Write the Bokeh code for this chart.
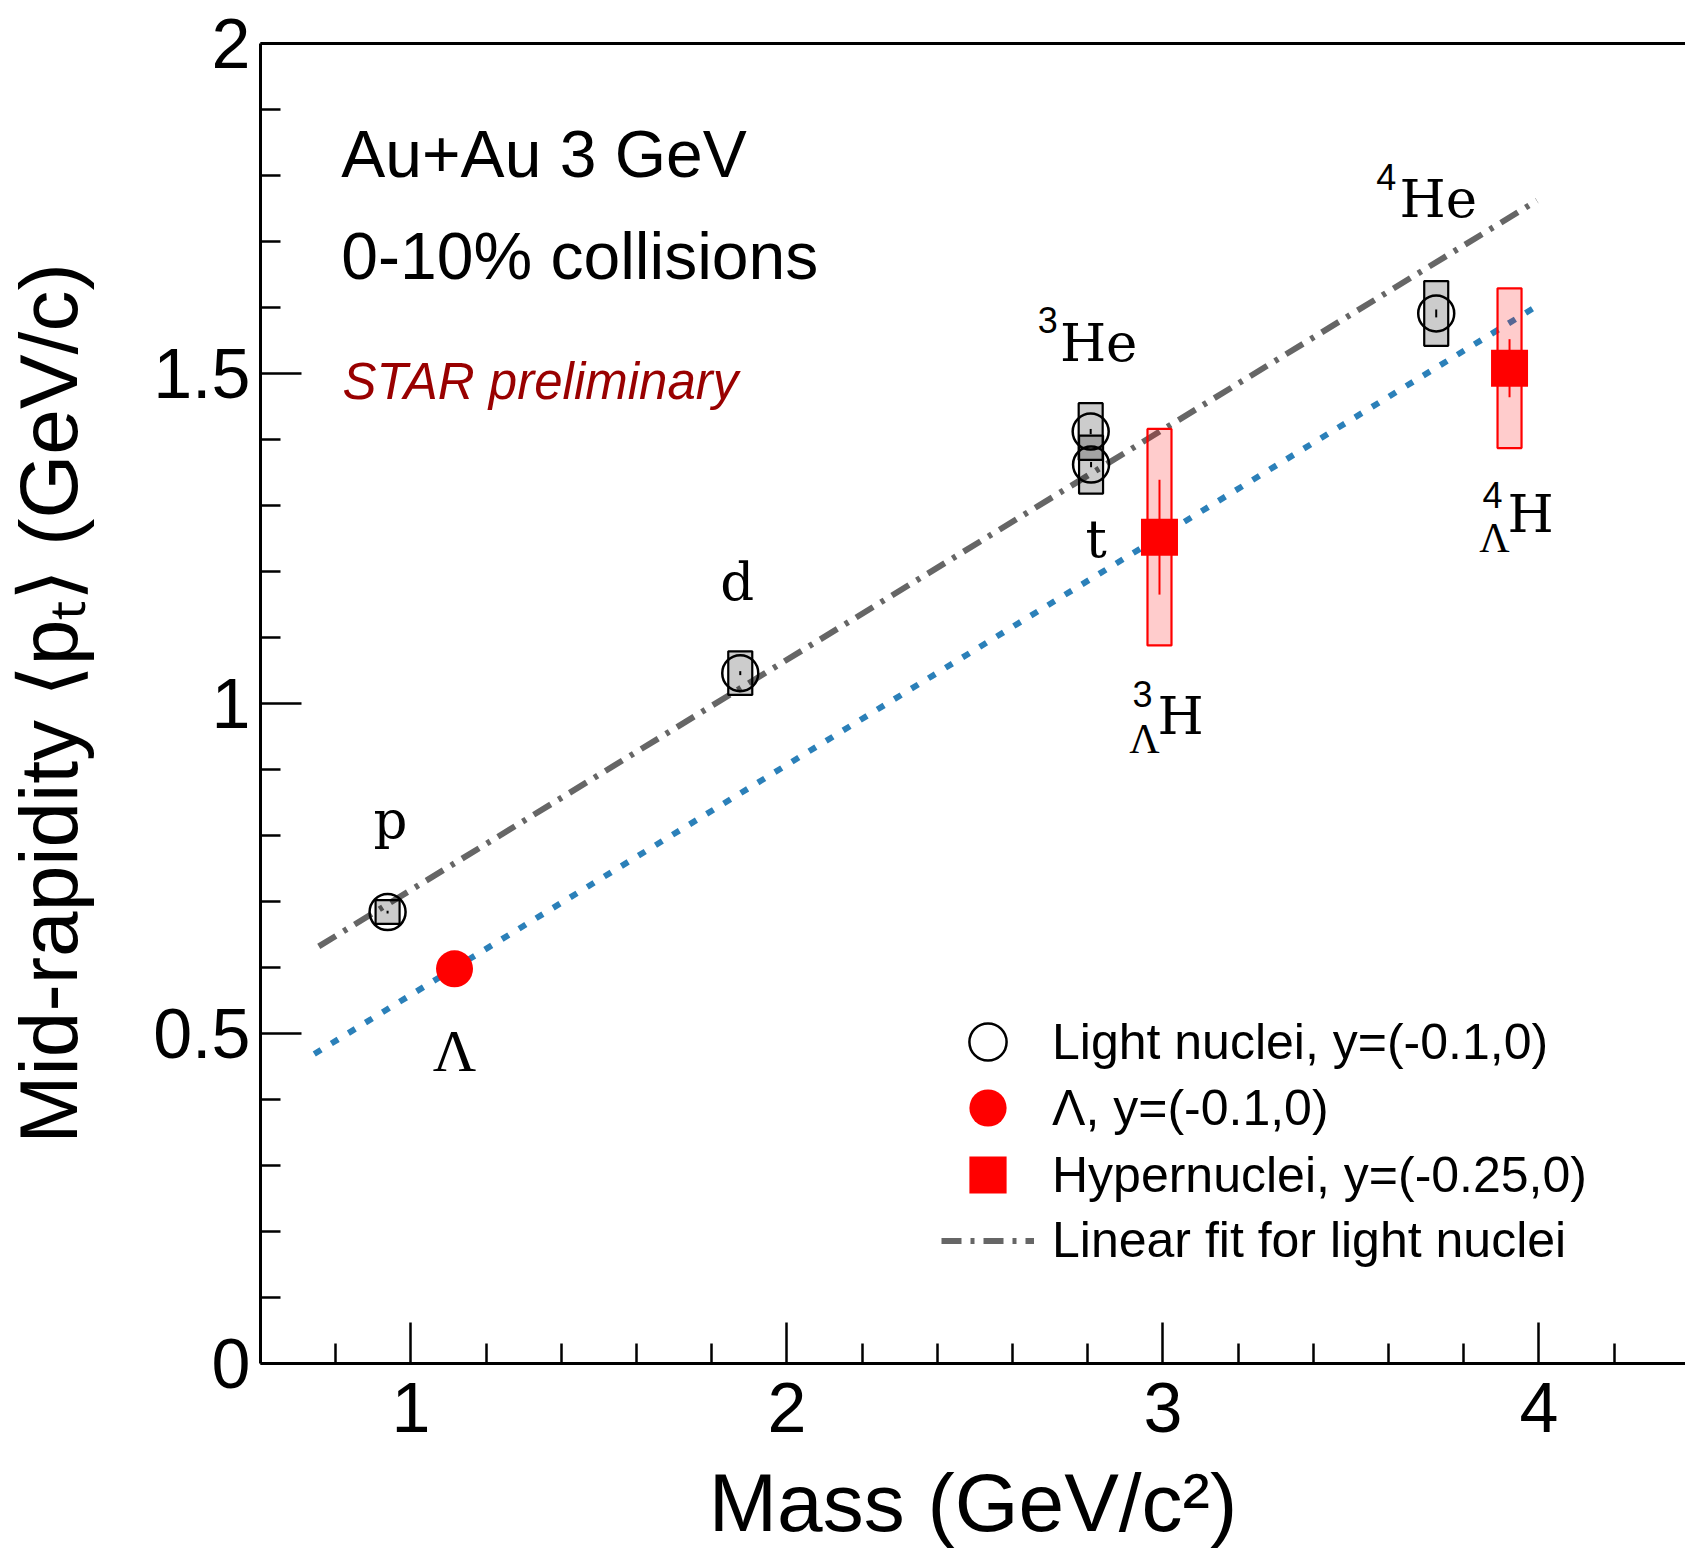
from bokeh.plotting import figure
from bokeh.models import (ColumnDataSource, FixedTicker, CustomJSTickFormatter, LinearAxis,
                          Label, Legend, LegendItem)
from bokeh.core.properties import value
from bokeh.embed import file_html
from bokeh.resources import INLINE

# ---------------- data ----------------
light_names = ["p", "d", "t", "3He", "4He"]
light_mass = [0.938, 1.876, 2.809, 2.808, 3.727]
light_mpt = [0.684, 1.046, 1.362, 1.412, 1.591]
light_stat = [0.002, 0.003, 0.004, 0.004, 0.006]
light_sys = [0.018, 0.033, 0.044, 0.043, 0.049]

lambda_mass = [1.116]
lambda_mpt = [0.598]

hyper_names = ["3LH", "4LH"]
hyper_mass = [2.991, 3.922]
hyper_mpt = [1.252, 1.508]
hyper_stat = [0.087, 0.044]
hyper_sys = [0.164, 0.121]

fit_x = [0.755, 3.995]          # linear fit for light nuclei
fit_y = [0.632, 1.762]
hyp_line_x = [0.743, 4.0]        # dotted blue line
hyp_line_y = [0.469, 1.604]

x_major = [1, 2, 3, 4]
x_minor = [0.8, 1.2, 1.4, 1.6, 1.8, 2.2, 2.4, 2.6, 2.8, 3.2, 3.4, 3.6, 3.8, 4.2]
y_major = [0, 0.5, 1, 1.5, 2]
y_minor = [0.1, 0.2, 0.3, 0.4, 0.6, 0.7, 0.8, 0.9, 1.1, 1.2, 1.3, 1.4, 1.6, 1.7, 1.8, 1.9]

SANS = "Liberation Sans"
SLAB = "DejaVu Serif"
SERIF = "Liberation Serif"

# ---------------- figure ----------------
p = figure(width=1685, height=1556, x_range=(0.6, 4.39), y_range=(0, 2),
           output_backend="svg", toolbar_location=None,
           min_border_left=258, min_border_right=0, min_border_top=43, min_border_bottom=193,
           background_fill_color="white", border_fill_color="white")
p.grid.visible = False
p.outline_line_color = None

for ax, maj, mnr, stand in ((p.xaxis[0], x_major, x_minor, 19), (p.yaxis[0], y_major, y_minor, 10)):
    ax.ticker = FixedTicker(ticks=maj, minor_ticks=mnr)
    ax.formatter = CustomJSTickFormatter(code="return tick.toString()")
    ax.axis_line_width = 3
    ax.axis_line_color = "black"
    ax.major_tick_line_width = 2.5
    ax.minor_tick_line_width = 2.5
    ax.major_tick_in = 41
    ax.major_tick_out = 0
    ax.minor_tick_in = 20
    ax.minor_tick_out = 0
    ax.major_label_text_font = SANS
    ax.major_label_text_font_size = "70px"
    ax.major_label_text_color = "black"
    ax.major_label_standoff = stand
    ax.axis_label_text_font = SANS
    ax.axis_label_text_font_size = "82px"
    ax.axis_label_text_font_style = "normal"
    ax.axis_label_text_color = "black"

p.xaxis[0].axis_label = "Mass (GeV/c²)"
p.xaxis[0].axis_label_standoff = 22
p.yaxis[0].axis_label = "Mid-rapidity ⟨pₜ⟩ (GeV/c)"
p.yaxis[0].axis_label_standoff = 56

top_axis = LinearAxis(ticker=FixedTicker(ticks=[]), major_label_text_font_size="0px",
                      axis_line_width=3, major_tick_in=0, major_tick_out=0,
                      minor_tick_in=0, minor_tick_out=0)
p.add_layout(top_axis, "above")

# ---------------- lines ----------------
fit_r = p.line(fit_x, fit_y, line_color="#666666", line_width=6, line_dash="20 9 4 9")
p.line(hyp_line_x, hyp_line_y, line_color="#2b80b9", line_width=6, line_dash="8 12")

# ---------------- systematic boxes ----------------
light_src = ColumnDataSource(dict(x=light_mass, y=light_mpt,
                                  h=[2 * s for s in light_sys],
                                  y0=[v - e for v, e in zip(light_mpt, light_stat)],
                                  y1=[v + e for v, e in zip(light_mpt, light_stat)]))
hyper_src = ColumnDataSource(dict(x=hyper_mass, y=hyper_mpt,
                                  h=[2 * s for s in hyper_sys],
                                  y0=[v - e for v, e in zip(hyper_mpt, hyper_stat)],
                                  y1=[v + e for v, e in zip(hyper_mpt, hyper_stat)]))

p.rect(x="x", y="y", width=24, height="h", width_units="screen", source=light_src,
       fill_color="black", fill_alpha=0.2, line_color="black", line_width=2.2)
p.rect(x="x", y="y", width=24, height="h", width_units="screen", source=hyper_src,
       fill_color="red", fill_alpha=0.2, line_color="red", line_width=2.2)

# stat errors
p.segment(x0="x", y0="y0", x1="x", y1="y1", source=light_src, line_color="black", line_width=2)
p.segment(x0="x", y0="y0", x1="x", y1="y1", source=hyper_src, line_color="red", line_width=2)

# ---------------- markers ----------------
light_r = p.scatter(x="x", y="y", source=light_src, marker="circle", size=36,
                    fill_color=None, line_color="black", line_width=2.5)
lam_r = p.scatter(lambda_mass, lambda_mpt, marker="circle", size=37,
                  fill_color="red", line_color=None)
hyp_r = p.scatter(x="x", y="y", source=hyper_src, marker="square", size=37,
                  fill_color="red", line_color=None)

# ---------------- particle labels (anchored to data points, offsets in px) ----------------
def lab(xs, ys, i, text, dx, dy):
    return (xs[i], ys[i], text, dx, dy)

slab_labels = [
    lab(light_mass, light_mpt, 0, "p", 3, -93),
    lab(light_mass, light_mpt, 1, "d", -3, -92),
    lab(light_mass, light_mpt, 2, "t", 5, 74),
    lab(light_mass, light_mpt, 3, "He", 8, -89),
    lab(light_mass, light_mpt, 4, "He", 2, -115),
    lab(hyper_mass, hyper_mpt, 0, "H", 21, 178),
    lab(hyper_mass, hyper_mpt, 1, "H", 21, 145),
]
sup_labels = [
    lab(light_mass, light_mpt, 3, "3", -43, -112),
    lab(light_mass, light_mpt, 4, "4", -50, -136),
    lab(hyper_mass, hyper_mpt, 0, "3", -17, 157),
    lab(hyper_mass, hyper_mpt, 1, "4", -17, 127),
]
sub_lambda = [
    lab(hyper_mass, hyper_mpt, 0, "Λ", -15, 202),
    lab(hyper_mass, hyper_mpt, 1, "Λ", -15, 170),
]
big_lambda = [lab(lambda_mass, lambda_mpt, 0, "Λ", 0, 82)]

def add_text(items, font, size, style="normal"):
    src = ColumnDataSource(dict(x=[a[0] for a in items], y=[a[1] for a in items],
                                text=[a[2] for a in items], dx=[a[3] for a in items],
                                dy=[a[4] for a in items]))
    p.text(x="x", y="y", text="text", x_offset="dx", y_offset="dy", source=src,
           text_font=value(font), text_font_size=size, text_font_style=style,
           text_align="center", text_baseline="alphabetic", text_color="black")

add_text(slab_labels, SLAB, "53px")
add_text(sup_labels, SANS, "36px")
add_text(sub_lambda, SERIF, "42px")
add_text(big_lambda, SERIF, "60px")

# ---------------- annotations ----------------
p.add_layout(Label(x=0.815, y=1.832, text="Au+Au 3 GeV", text_font=SANS, text_font_size="66px",
                   text_baseline="alphabetic", text_color="black"))
p.add_layout(Label(x=0.815, y=1.678, text="0-10% collisions", text_font=SANS, text_font_size="66px",
                   text_baseline="alphabetic", text_color="black"))
p.add_layout(Label(x=0.818, y=1.488, text="STAR preliminary", text_font=SANS, text_font_size="51px",
                   text_font_style="italic", text_baseline="alphabetic", text_color="#990000"))

# ---------------- legend (one row per Legend so glyph sizes match) ----------------
rows = [
    ("Light nuclei, y=(-0.1,0)", light_r, 273.8),
    ("Λ, y=(-0.1,0)", lam_r, 207.8),
    ("Hypernuclei, y=(-0.25,0)", hyp_r, 141.0),
    ("Linear fit for light nuclei", fit_r, 75.5),
]
for text, rend, ly in rows:
    leg = Legend(items=[LegendItem(label=text, renderers=[rend])], location=(681, ly),
                 glyph_width=93, glyph_height=95, label_standoff=18, padding=0, margin=0,
                 spacing=0, border_line_color=None, background_fill_alpha=0,
                 label_text_font=SANS, label_text_font_size="50px", label_text_color="black")
    p.add_layout(leg, "center")

open("out.html", "w").write(file_html(p, INLINE))
